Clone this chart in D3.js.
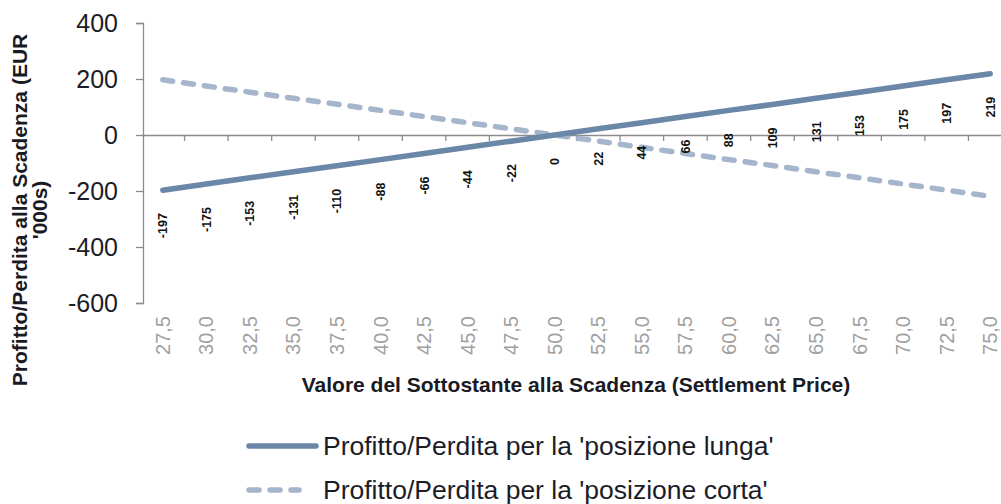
<!DOCTYPE html>
<html>
<head>
<meta charset="utf-8">
<script src="https://cdn.jsdelivr.net/npm/d3@7"></script>
<style>
  body { margin: 0; background: #fff; }
  svg { font-family: "Liberation Sans", Arial, sans-serif; }
</style>
</head>
<body>
<svg id="chart" width="1001" height="504"></svg>
<script>
// Settlement prices (categories)
const prices = ["27,5","30,0","32,5","35,0","37,5","40,0","42,5","45,0","47,5","50,0",
                "52,5","55,0","57,5","60,0","62,5","65,0","67,5","70,0","72,5","75,0"];
// P&L long position (EUR '000s)
const longPL = [-197,-175,-153,-131,-110,-88,-66,-44,-22,0,22,44,66,88,109,131,153,175,197,219];
// P&L short position
const shortPL = [197,175,153,131,110,88,66,44,22,0,-22,-44,-66,-88,-109,-131,-153,-175,-197,-219];
const yTicks = [400,200,0,-200,-400,-600];

const longColor = "#6a87a8";
const shortColor = "#a5b5cb";
const axisColor = "#8c8c8c";
const font = "Liberation Sans, Arial, sans-serif";

const svg = d3.select("#chart");

// Scales
const x = d3.scaleBand().domain(prices).range([141, 1012]);
const y = d3.scaleLinear().domain([-600, 400]).range([303, 23]);
const cx = d => x(d) + x.bandwidth() / 2;

// Y axis
const yAxis = svg.append("g")
  .attr("transform", "translate(143,0)")
  .call(d3.axisLeft(y).tickValues(yTicks).tickSize(7).tickPadding(18).tickFormat(d => String(d)));
yAxis.select(".domain").attr("stroke", axisColor).attr("stroke-width", 1.3);
yAxis.selectAll(".tick line").attr("stroke", axisColor).attr("stroke-width", 1.3);
yAxis.selectAll(".tick text")
  .attr("font-size", "25px").attr("fill", "#1c1c28")
  .attr("font-family", font);

// X axis at zero
const xAxis = svg.append("g")
  .attr("transform", `translate(0,${y(0)})`)
  .call(d3.axisBottom(x).tickSize(0).tickFormat(""));
xAxis.select(".domain").attr("stroke", axisColor).attr("stroke-width", 1.3);
// tick marks between categories
svg.append("g").selectAll("line")
  .data(prices.slice(1))
  .join("line")
  .attr("x1", d => x(d)).attr("x2", d => x(d))
  .attr("y1", y(0)).attr("y2", y(0) + 6)
  .attr("stroke", axisColor).attr("stroke-width", 1.3);

// Category labels at bottom
svg.append("g").selectAll("text")
  .data(prices)
  .join("text")
  .attr("transform", d => `translate(${cx(d) + 7},316) rotate(-90)`)
  .attr("text-anchor", "end")
  .attr("font-size", "20px")
  .attr("fill", "#a0a0a0")
  .text(d => d);

// Lines
const line = d3.line().x((d, i) => cx(prices[i])).y(d => y(d));
svg.append("path")
  .datum(shortPL)
  .attr("d", line)
  .attr("fill", "none")
  .attr("stroke", shortColor)
  .attr("stroke-width", 5.5)
  .attr("stroke-linecap", "round")
  .attr("stroke-dasharray", "10,11");
svg.append("path")
  .datum(longPL)
  .attr("d", line)
  .attr("fill", "none")
  .attr("stroke", longColor)
  .attr("stroke-width", 5.5)
  .attr("stroke-linecap", "round");

// Data labels (below long line points)
svg.append("g").selectAll("text")
  .data(longPL)
  .join("text")
  .attr("transform", (d, i) => `translate(${cx(prices[i]) + 4.5},${y(d) + 23}) rotate(-90)`)
  .attr("text-anchor", "end")
  .attr("font-size", "12.5px")
  .attr("font-weight", "bold")
  .attr("fill", "#111")
  .text(d => d);

// Axis titles
svg.append("text")
  .attr("x", 576).attr("y", 392)
  .attr("text-anchor", "middle")
  .attr("font-size", "21px").attr("font-weight", "bold").attr("fill", "#1a1a24")
  .text("Valore del Sottostante alla Scadenza (Settlement Price)");

const yTitle = svg.append("text")
  .attr("transform", "translate(27,210) rotate(-90)")
  .attr("text-anchor", "middle")
  .attr("font-size", "21px").attr("font-weight", "bold").attr("fill", "#1a1a24");
yTitle.append("tspan").attr("x", 0).attr("dy", 0).text("Profitto/Perdita alla Scadenza (EUR");
yTitle.append("tspan").attr("x", 0).attr("dy", 20).text("'000s)");

// Legend
const legend = [
  { label: "Profitto/Perdita per la 'posizione lunga'", color: longColor, dash: null, y: 446 },
  { label: "Profitto/Perdita per la 'posizione corta'", color: shortColor, dash: "10,11", y: 490 }
];
const lg = svg.append("g").selectAll("g").data(legend).join("g");
lg.append("line")
  .attr("x1", 249).attr("x2", d => d.dash ? 299 : 316)
  .attr("y1", d => d.y).attr("y2", d => d.y)
  .attr("stroke", d => d.color).attr("stroke-width", 5.5)
  .attr("stroke-linecap", "round")
  .attr("stroke-dasharray", d => d.dash);
lg.append("text")
  .attr("x", 323).attr("y", d => d.y + 9)
  .attr("font-size", "26.5px").attr("fill", "#1c1c28")
  .text(d => d.label);
</script>
</body>
</html>
